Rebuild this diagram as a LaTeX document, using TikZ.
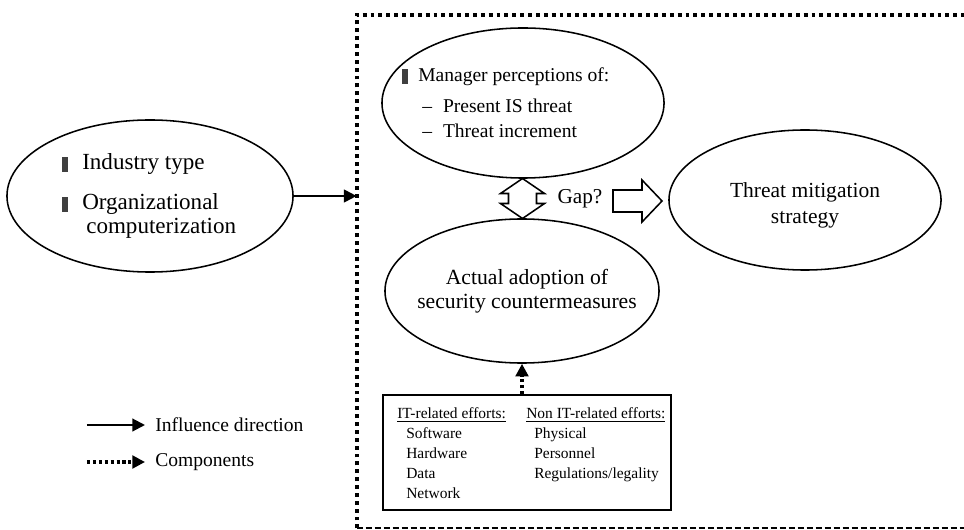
\documentclass[tikz,border=0pt]{standalone}
\usepackage{fontspec}
\setmainfont{Liberation Serif}
\usepackage{tikz}
\usetikzlibrary{positioning}
\usetikzlibrary{calc}
\usetikzlibrary{shapes.geometric}
\usetikzlibrary{arrows.meta}
\newcommand{\blt}{{\color{black!75}\rule[-0.05cm]{0.15cm}{0.38cm}}}
\newcommand{\orgfont}{\fontsize{16.4}{16.6}\selectfont}
\newcommand{\percfont}{\fontsize{13.9}{17.8}\selectfont}
\newcommand{\ovalfont}{\fontsize{15.3}{17.5}\selectfont}
\newcommand{\legfont}{\fontsize{13.9}{16}\selectfont}
\newcommand{\boxfont}{\fontsize{11}{14.2}\selectfont}

\begin{document}
\begin{tikzpicture}[x=0.025cm, y=-0.025cm,
    oval/.style={ellipse, draw, line width=1.1pt, inner sep=0pt},
    infl/.style={line width=1.5pt, -{Triangle[length=9pt, width=9pt]}},
    comp/.style={line width=2.2pt, dash pattern=on 2.2pt off 2pt, -{Triangle[length=9pt, width=9pt]}},
    hollow/.style={draw, line width=1.1pt, fill=white, line join=miter},
    frameline/.style={line width=2.8pt, dash pattern=on 2.8pt off 2.8pt},
    framebase/.style={line width=1.6pt, dash pattern=on 4.2pt off 2.2pt}]

  \useasboundingbox (0,0) rectangle (964,530);

  % dotted frame, open to the right
  \node[minimum width=15.45cm, minimum height=12.825cm, inner sep=0pt] (frame) at (666,271.5) {};
  \draw[frameline] (frame.south west) -- (frame.north west) -- (frame.north east);
  \draw[framebase] (frame.south west) -- (frame.south east);

  % ovals
  \node[oval, minimum width=7.15cm, minimum height=3.8cm] (org) at (150,196) {};
  \node[oval, minimum width=7.05cm, minimum height=3.75cm] (percep) at (523,103) {};
  \node[oval, minimum width=6.85cm, minimum height=3.6cm] (adopt) at (522,291) {};
  \node[oval, minimum width=6.8cm, minimum height=3.5cm] (threat) at (805,200) {};

  \node[anchor=west, align=left, inner sep=0pt, font=\orgfont] (orgtxt) at ([xshift=-2.2cm]org.center)
    {\blt\hspace{0.35cm}Industry type\\[12pt]
     \blt\hspace{0.35cm}Organizational\\
     \hspace{0.6cm}computerization};
  \node[anchor=west, align=left, inner sep=0pt, font=\percfont] (perceptxt) at ([xshift=-3.025cm]percep.center)
    {\blt\hspace{0.25cm}Manager perceptions of:\\[4pt]
     \hspace{0.5cm}--\hspace{0.275cm}Present IS threat\\
     \hspace{0.5cm}--\hspace{0.275cm}Threat increment};
  \node[align=center, inner sep=0pt, font=\fontsize{15.4}{17}\selectfont] (adopttxt) at ([xshift=0.125cm]adopt.center)
    {Actual adoption of\\security countermeasures};
  \node[align=center, inner sep=0pt, font=\fontsize{15.3}{18.5}\selectfont] (threattxt) at ([yshift=-0.125cm]threat.center)
    {Threat mitigation\\strategy};

  % gap between perception and adoption
  \coordinate (gapmid) at ($(percep.south)!0.5!(adopt.north)$);
  \begin{scope}[shift={(gapmid)}]
    \draw[hollow] (0,-20) -- (22,-5) -- (14,-5) -- (14,5) -- (22,5) -- (0,20)
      -- (-22,5) -- (-14,5) -- (-14,-5) -- (-22,-5) -- cycle;
  \end{scope}
  \node[inner sep=0pt, font=\fontsize{15.1}{18}\selectfont] (gap) at (580,199) {Gap?};
  \begin{scope}[shift={(613,201)}]
    \draw[hollow] (0,-11) -- (29,-11) -- (29,-21) -- (49,0) -- (29,21) -- (29,11) -- (0,11) -- cycle;
  \end{scope}

  % components box
  \node[draw, line width=1.4pt, minimum width=7.2cm, minimum height=2.875cm, inner sep=0pt] (efforts) at (527,452.5) {};
  \node[anchor=north west, align=left, inner sep=0pt, font=\boxfont] (itlist) at ([xshift=0.375cm, yshift=-0.34cm]efforts.north west)
    {\underline{IT-related efforts:}\\
     \hspace{0.225cm}Software\\
     \hspace{0.225cm}Hardware\\
     \hspace{0.225cm}Data\\
     \hspace{0.225cm}Network};
  \node[anchor=north west, align=left, inner sep=0pt, font=\boxfont] (nonitlist) at ([xshift=3.6cm, yshift=-0.34cm]efforts.north west)
    {\underline{Non IT-related efforts:}\\
     \hspace{0.2cm}Physical\\
     \hspace{0.2cm}Personnel\\
     \hspace{0.2cm}Regulations/legality};

  % connectors
  \draw[infl] (org.east) -- (org.east -| frame.west);
  \draw[comp] (efforts.north -| adopt.south) -- (adopt.south);

  % legend
  \node[anchor=west, inner sep=0pt, font=\legfont] (infllab) at (155,425) {Influence direction};
  \node[anchor=west, inner sep=0pt, font=\legfont] (complab) at (155,462) {Components};
  \draw[infl] ([xshift=-1.7cm]infllab.west) -- ([xshift=-0.25cm]infllab.west);
  \draw[comp] ([xshift=-1.7cm]complab.west) -- ([xshift=-0.25cm]complab.west);
\end{tikzpicture}
\end{document}
